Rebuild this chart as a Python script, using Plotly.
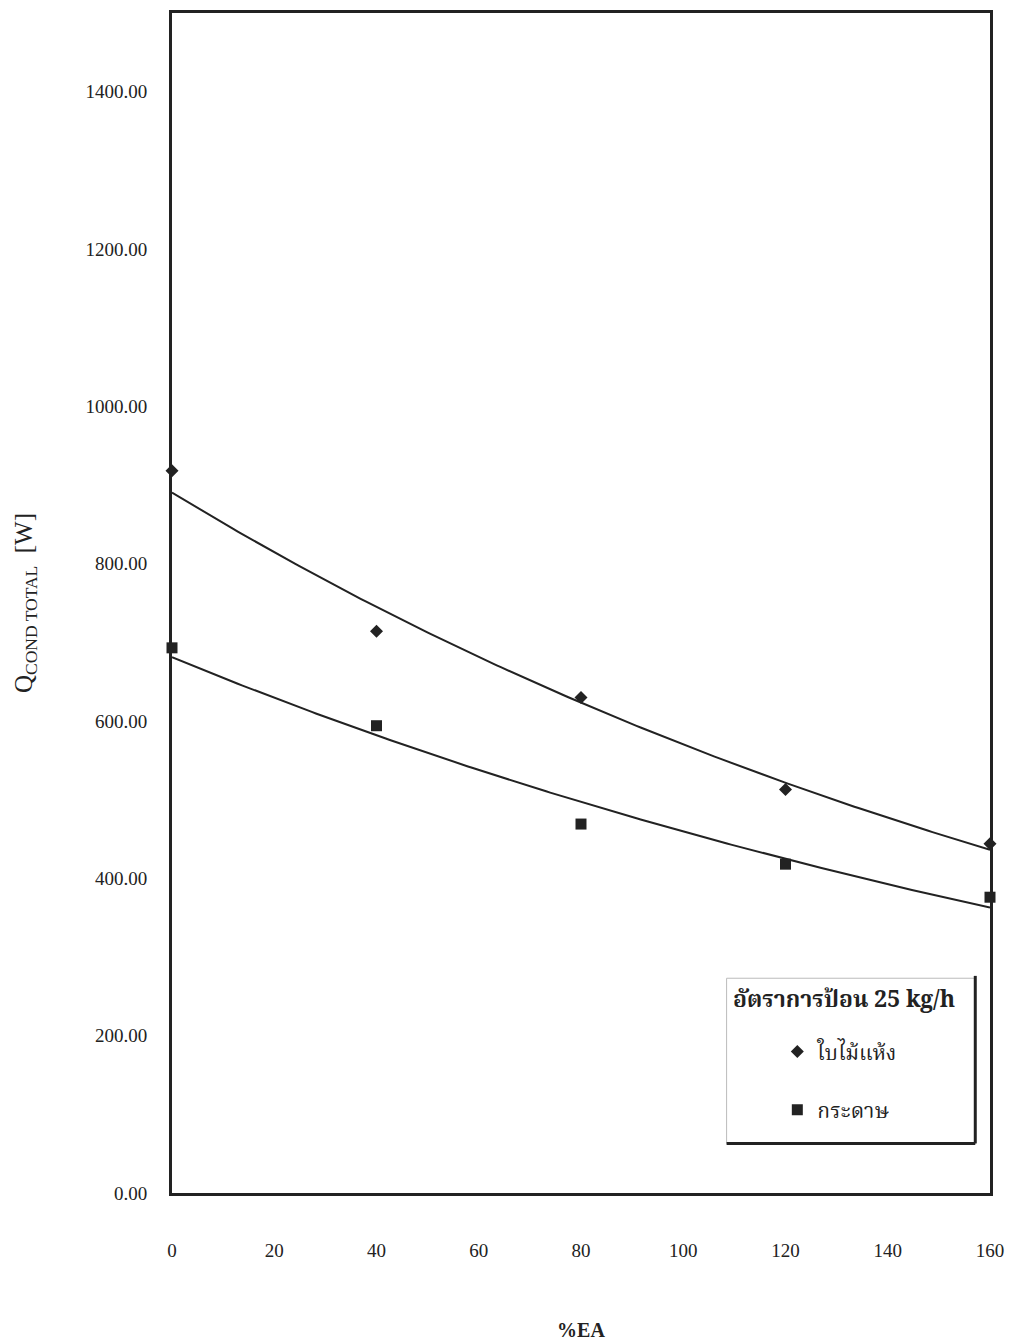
import numpy as np
import plotly.graph_objects as go

# Data
ea = [0, 40, 80, 120, 160]
leaves = [918, 714, 630, 513, 444]      # ใบไม้แห้ง
paper = [693, 594, 469, 418, 376]       # กระดาษ
x_ticks = [0, 20, 40, 60, 80, 100, 120, 140, 160]
y_ticks = [0, 200, 400, 600, 800, 1000, 1200, 1400]

legend_title = "อัตราการป้อน 25 kg/h"
name_leaves = "ใบไม้แห้ง"
name_paper = "กระดาษ"

SERIF = "Liberation Serif, Times New Roman, serif"
THAI = "Noto Serif Thai, Noto Sans Thai, Loma, Garuda, Liberation Serif, serif"


def exp_fit(x, y):
    x = np.asarray(x, float)
    b, a = np.polyfit(x, np.log(np.asarray(y, float)), 1)
    xs = np.linspace(min(x), max(x), 200)
    return xs, np.exp(a) * np.exp(b * xs)


fig = go.Figure()

for ys in (leaves, paper):
    fx, fy = exp_fit(ea, ys)
    fig.add_trace(go.Scatter(x=fx, y=fy, mode="lines",
                             line=dict(color="#222", width=2),
                             showlegend=False, hoverinfo="skip"))

fig.add_trace(go.Scatter(x=ea, y=leaves, mode="markers", name=name_leaves,
                         legendgroup="a",
                         marker=dict(symbol="diamond", size=10, color="#222"),
                         cliponaxis=False))
fig.add_trace(go.Scatter(x=ea, y=paper, mode="markers", name=name_paper,
                         legendgroup="b",
                         marker=dict(symbol="square", size=11, color="#222"),
                         cliponaxis=False))

# legend box with shadow (paper coords)
lx0, lx1, ly0, ly1 = 0.678, 0.982, 0.042, 0.182
fig.add_shape(type="rect", xref="paper", yref="paper", x0=lx0, x1=lx1, y0=ly0, y1=ly1,
              line=dict(color="#bbb", width=1), fillcolor="white", layer="above")
fig.add_shape(type="line", xref="paper", yref="paper", x0=lx1, x1=lx1, y0=ly0, y1=ly1 + 0.002,
              line=dict(color="#222", width=3), layer="above")
fig.add_shape(type="line", xref="paper", yref="paper", x0=lx0, x1=lx1, y0=ly0, y1=ly0,
              line=dict(color="#222", width=3), layer="above")
fig.add_annotation(xref="paper", yref="paper", x=0.683, y=0.163, xanchor="left", yanchor="middle",
                   text="<b>" + legend_title + "</b>", showarrow=False,
                   font=dict(family=THAI, size=23, color="#222"))

fig.update_layout(
    width=1011, height=1344,
    margin=dict(l=172, r=21, t=13, b=151, autoexpand=False),
    paper_bgcolor="white", plot_bgcolor="white",
    font=dict(family=SERIF, size=19, color="#222"),
    showlegend=True,
    legend=dict(x=0.74, y=0.137, xanchor="left", yanchor="top",
                bgcolor="rgba(0,0,0,0)", borderwidth=0,
                tracegroupgap=28, itemwidth=30,
                font=dict(family=THAI, size=21, color="#222")),
    xaxis=dict(range=[0, 160], tickvals=x_ticks, ticks="", showgrid=False, zeroline=False,
               showline=True, linecolor="#222", linewidth=3, mirror=True, automargin=False,
               ticklabelstandoff=38, tickfont=dict(family=SERIF, size=19),
               title=dict(text="<b>%EA</b>", font=dict(family=SERIF, size=20), standoff=64)),
    yaxis=dict(range=[0, 1500], tickvals=y_ticks, tickformat=".2f", ticks="", showgrid=False,
               zeroline=False, showline=True, linecolor="#222", linewidth=3, mirror=True,
               automargin=False,
               ticklabelstandoff=18, tickfont=dict(family=SERIF, size=19),
               title=dict(text="Q<sub>COND TOTAL</sub>  [W]", font=dict(family=SERIF, size=25),
                          standoff=46)),
)

fig.write_html("out.html")
